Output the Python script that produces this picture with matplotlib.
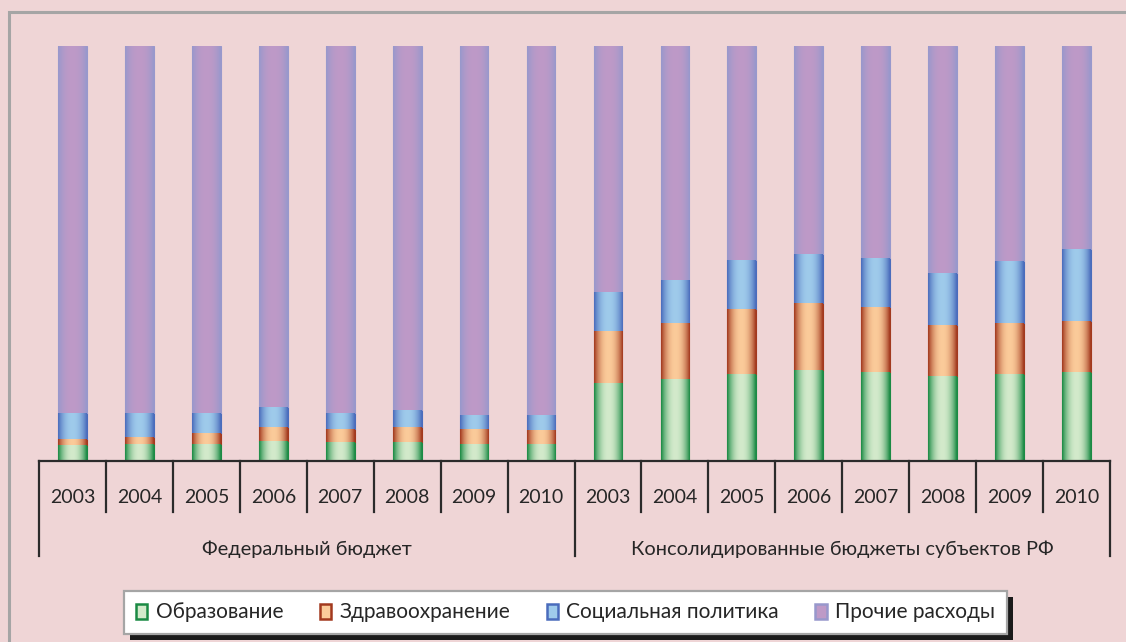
import matplotlib
matplotlib.use("Agg")
import matplotlib.pyplot as plt
import numpy as np
from matplotlib.patches import Patch, Rectangle
from matplotlib.colors import to_rgb

plt.rcParams["font.family"] = ["Lato", "DejaVu Sans"]

# ── data (% of budget spending) ──────────────────────────────────────────────
YEARS = ["2003", "2004", "2005", "2006", "2007", "2008", "2009", "2010"]
GROUPS = ["Федеральный бюджет", "Консолидированные бюджеты субъектов РФ"]
SERIES = ["Образование", "Здравоохранение", "Социальная политика", "Прочие расходы"]

fed_edu = [3.9, 4.1, 4.1, 4.8, 4.5, 4.5, 4.0, 4.0]
fed_health = [1.4, 1.7, 2.7, 3.4, 3.3, 3.8, 3.8, 3.4]
fed_social = [6.3, 5.8, 4.8, 4.8, 3.8, 3.9, 3.3, 3.7]

reg_edu = [18.7, 19.7, 21.0, 22.0, 21.5, 20.6, 21.0, 21.5]
reg_health = [12.7, 13.6, 15.6, 16.1, 15.6, 12.2, 12.3, 12.3]
reg_social = [9.4, 10.3, 11.8, 11.7, 11.7, 12.4, 15.0, 17.4]

edu = np.array(fed_edu + reg_edu)
health = np.array(fed_health + reg_health)
social = np.array(fed_social + reg_social)
other = 100 - edu - health - social

# ── palette: (edge, centre) ──────────────────────────────────────────────────
PALETTE = [
    ("#1B8A44", "#D3EACB"),
    ("#A2391E", "#FBCB9A"),
    ("#4A6CBC", "#9FCBEB"),
    ("#9898CC", "#BE9AC7"),
]
BG = "#EFD5D6"


def gradient_strip(edge, centre, n=64):
    e = np.array(to_rgb(edge))
    c = np.array(to_rgb(centre))
    t = np.abs(np.linspace(-1, 1, n)) ** 2.2
    return (c[None, :] * (1 - t[:, None]) + e[None, :] * t[:, None])[None, :, :]


fig = plt.figure(figsize=(11.26, 6.42), dpi=100)
fig.patch.set_facecolor(BG)
ax = fig.add_axes([39 / 1126, (642 - 461) / 642, 1071 / 1126, 415 / 642])
ax.set_facecolor(BG)

x = np.arange(len(edu))
width = 0.43
bottom = np.zeros(len(x))
for vals, (edge, centre), name in zip([edu, health, social, other], PALETTE, SERIES):
    bars = ax.bar(x, vals, width, bottom=bottom, color=centre, edgecolor=edge,
                  linewidth=0.8, label=name, zorder=2)
    img = gradient_strip(edge, centre)
    for b in bars:
        x0, y0 = b.get_x(), b.get_y()
        im = ax.imshow(img, extent=(x0, x0 + b.get_width(), y0, y0 + b.get_height()),
                       aspect="auto", zorder=3, interpolation="bilinear")
        im.set_clip_path(b)
    bottom += vals

ax.set_xlim(-0.5, len(x) - 0.5)
ax.set_ylim(0, 100)
ax.axis("off")

# category axis drawn by hand (two-level labels)
line_kw = dict(color="#2b2b2b", linewidth=1.6, clip_on=False, zorder=4)
ax.plot([-0.5, len(x) - 0.5], [0, 0], **line_kw)
for i in range(len(x) + 1):
    edge_x = i - 0.5
    low = -22.9 if i % 8 == 0 else -12.3
    ax.plot([edge_x, edge_x], [0, low], **line_kw)
for i in range(len(x)):
    ax.text(i, -8.7, YEARS[i % 8], ha="center", va="center", fontsize=14,
            color="#262626", clip_on=False)
for g, name in enumerate(GROUPS):
    ax.text(g * 8 + 3.5, -21.2, name, ha="center", va="center", fontsize=14.4,
            color="#262626", clip_on=False)

# outer frame
fig.add_artist(Rectangle((9 / 1126, -0.1), 1.2, 1 - 12 / 642 + 0.1,
                         transform=fig.transFigure, fill=False,
                         edgecolor="#A5A5A5", linewidth=2.2))

# legend
handles = [Patch(facecolor=c, edgecolor=e, linewidth=1.8) for e, c in PALETTE]
leg = fig.legend(handles, SERIES, loc="center", bbox_to_anchor=(565.5 / 1126, 1 - 612.5 / 642),
                 ncol=4, fontsize=15, frameon=True, fancybox=False, framealpha=1,
                 handlelength=0.55, handleheight=0.75, handletextpad=0.4,
                 columnspacing=1.75, borderpad=0.55, borderaxespad=0, labelcolor="#262626")
leg.get_frame().set_edgecolor("#A5A5A5")
leg.get_frame().set_linewidth(1.6)
leg.get_frame().set_facecolor("white")
leg.set_zorder(5)

fig.canvas.draw()
bb = leg.get_window_extent().transformed(fig.transFigure.inverted())
fig.add_artist(Rectangle((bb.x0 + 6 / 1126, bb.y0 - 6 / 642), bb.width, bb.height,
                         transform=fig.transFigure, facecolor="#1a1a1a",
                         edgecolor="none", zorder=4))

fig.savefig("out.png", dpi=100, facecolor=BG)
